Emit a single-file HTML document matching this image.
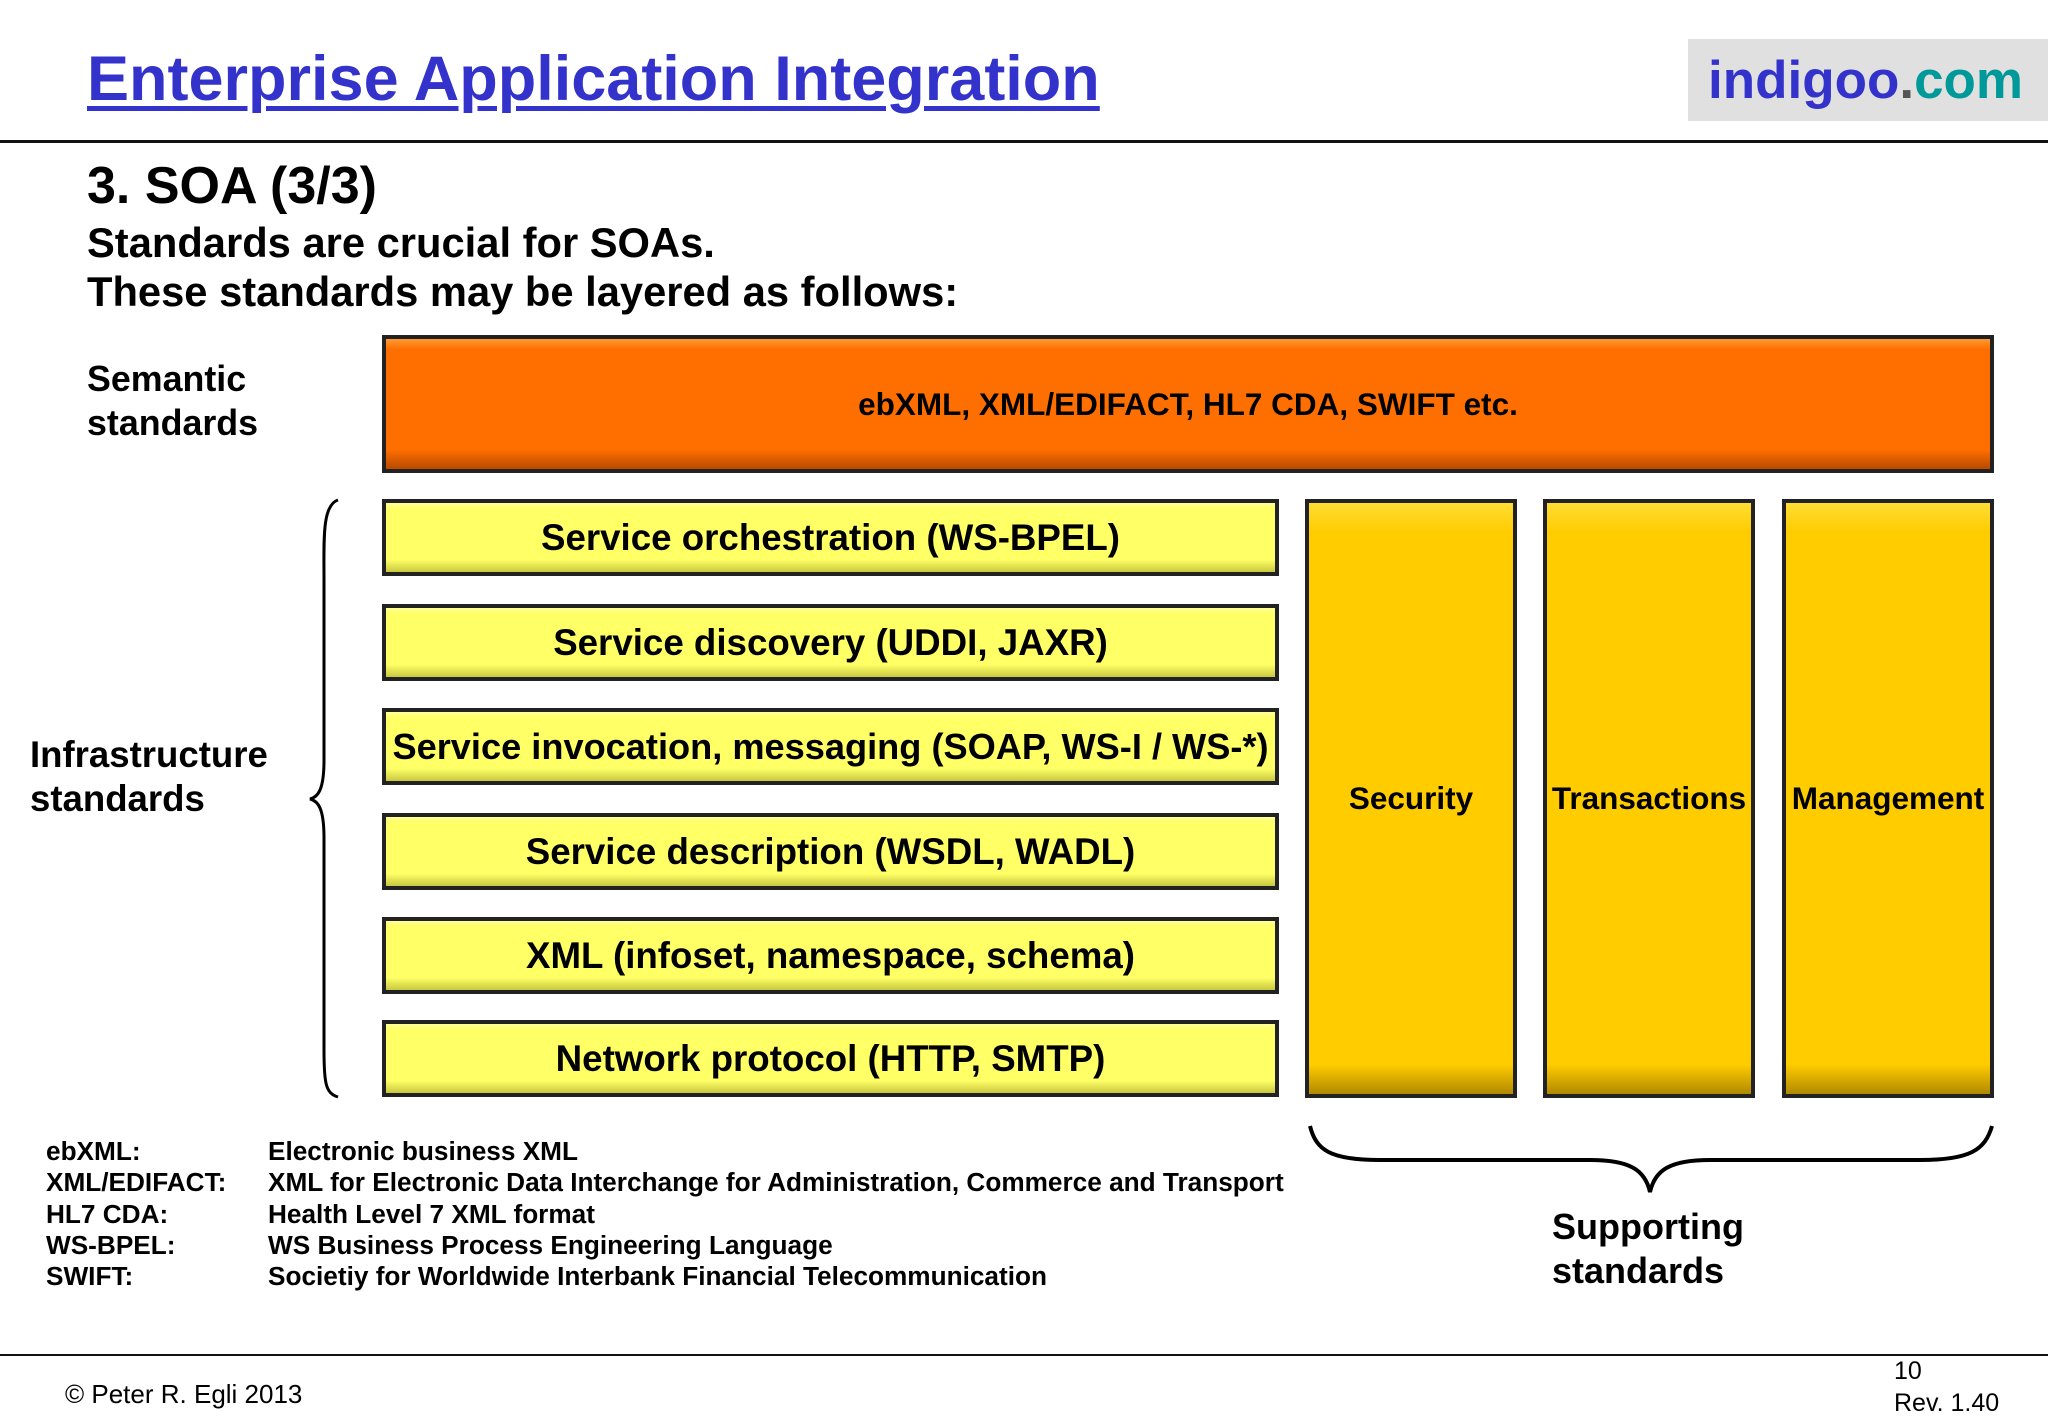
<!DOCTYPE html>
<html><head><meta charset="utf-8"><style>
*{margin:0;padding:0;box-sizing:border-box}
body{width:2048px;height:1418px;background:#fff;position:relative;overflow:hidden;font-family:"Liberation Sans",Arial,sans-serif;font-weight:bold;color:#000}
.a{position:absolute;white-space:nowrap}
.box{position:absolute;border:4px solid #222;display:flex;align-items:center;justify-content:center;text-align:center;white-space:nowrap}
.y{background:linear-gradient(#ffff99 0,#ffff66 8%,#ffff66 82%,#c8c840 100%);font-size:36.7px;left:382px;width:897px;height:77px}
.c{background:linear-gradient(#ffdd33 0,#ffcc00 5%,#ffcc00 95%,#b08800 100%);font-size:31.5px;top:499px;height:599px;width:212px}
.ab{font-size:26.2px;line-height:31.3px}
</style></head><body>
<div class="a" style="left:87px;top:43px;font-size:63px;color:#3333cc;text-decoration:underline;text-decoration-thickness:5px;text-underline-offset:6px">Enterprise Application Integration</div>
<div class="a" style="left:1688px;top:39px;width:360px;height:82px;background:#e0e0e0"></div>
<div class="a" style="left:1708px;top:50px;font-size:53px;color:#3333cc">indigoo<span style="color:#555">.</span><span style="color:#009999">com</span></div>
<div class="a" style="left:0;top:140px;width:2048px;height:3px;background:#111"></div>
<div class="a" style="left:87px;top:156px;font-size:52px">3. SOA (3/3)</div>
<div class="a" style="left:87px;top:219px;font-size:41.7px">Standards are crucial for SOAs.</div>
<div class="a" style="left:87px;top:268px;font-size:41.7px">These standards may be layered as follows:</div>
<div class="a" style="left:87px;top:357px;font-size:35.8px;line-height:44px">Semantic<br>standards</div>
<div class="box" style="left:382px;top:335px;width:1612px;height:138px;background:linear-gradient(#ff9933 0,#ff6f00 8%,#ff6f00 85%,#b84a00 100%);font-size:31.5px;border-color:#222">ebXML, XML/EDIFACT, HL7 CDA, SWIFT etc.</div>
<div class="box y" style="top:499px">Service orchestration (WS-BPEL)</div>
<div class="box y" style="top:604px">Service discovery (UDDI, JAXR)</div>
<div class="box y" style="top:708px;font-size:36.2px">Service invocation, messaging (SOAP, WS-I / WS-*)</div>
<div class="box y" style="top:813px">Service description (WSDL, WADL)</div>
<div class="box y" style="top:917px">XML (infoset, namespace, schema)</div>
<div class="box y" style="top:1020px">Network protocol (HTTP, SMTP)</div>
<div class="box c" style="left:1305px">Security</div>
<div class="box c" style="left:1543px">Transactions</div>
<div class="box c" style="left:1782px">Management</div>
<div class="a" style="left:30px;top:733px;font-size:36.6px;line-height:44px">Infrastructure<br>standards</div>
<svg class="a" style="left:0;top:0" width="2048" height="1418">
<path d="M338 500 C322 505 324 540 324 580 L324 760 C324 790 318 797 310 799 C318 801 324 808 324 838 L324 1050 C324 1085 326 1093 338 1097" fill="none" stroke="#000" stroke-width="3"/>
<path d="M1310 1126 C1316 1150 1330 1160 1380 1160 L1590 1160 C1630 1160 1645 1170 1650 1192 C1655 1170 1670 1160 1710 1160 L1920 1160 C1970 1160 1985 1150 1992 1126" fill="none" stroke="#000" stroke-width="4"/>
</svg>
<div class="a" style="left:1552px;top:1205px;font-size:36px;line-height:44px">Supporting<br>standards</div>
<div class="a ab" style="left:46px;top:1136px">ebXML:<br>XML/EDIFACT:<br>HL7 CDA:<br>WS-BPEL:<br>SWIFT:</div>
<div class="a ab" style="left:268px;top:1136px">Electronic business XML<br>XML for Electronic Data Interchange for Administration, Commerce and Transport<br>Health Level 7 XML format<br>WS Business Process Engineering Language<br>Societiy for Worldwide Interbank Financial Telecommunication</div>
<div class="a" style="left:0;top:1354px;width:2048px;height:2px;background:#111"></div>
<div class="a" style="left:65px;top:1379px;font-size:26px;font-weight:normal">© Peter R. Egli 2013</div>
<div class="a" style="left:1894px;top:1357px;font-size:25px;font-weight:normal">10</div>
<div class="a" style="left:1894px;top:1389px;font-size:25px;font-weight:normal">Rev. 1.40</div>
</body></html>
